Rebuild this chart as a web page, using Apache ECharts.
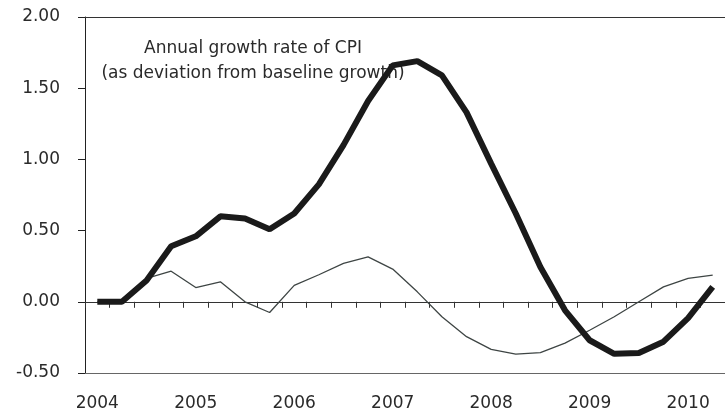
<!DOCTYPE html>
<html>
<head>
<meta charset="utf-8">
<script src="https://cdn.jsdelivr.net/npm/echarts@6/dist/echarts.min.js"></script>
<style>
  html, body { margin: 0; padding: 0; overflow: hidden; background: #fff; }
  #chart { width: 725px; height: 418px; }
</style>
</head>
<body>
<div id="chart"></div>
<script>
// ---- data (quarterly, 2004Q1 .. 2010Q2) ----
const years = ['2004', '2005', '2006', '2007', '2008', '2009', '2010']
const quarters = []
years.forEach(y => ['Q1', 'Q2', 'Q3', 'Q4'].forEach(q => quarters.push(y + q)))
quarters.length = 26

// thick line: annual CPI growth, deviation from baseline
const cpiDeviation = [0, 0, 0.15, 0.39, 0.46, 0.60, 0.585, 0.51,
  0.62, 0.825, 1.10, 1.41, 1.66, 1.69, 1.59, 1.33,
  0.97, 0.62, 0.245, -0.06, -0.27, -0.365, -0.36, -0.28,
  -0.115, 0.105]

// thin line
const otherSeries = [0, 0, 0.165, 0.215, 0.10, 0.14, 0.0, -0.075,
  0.115, 0.19, 0.27, 0.315, 0.23, 0.07, -0.105, -0.245,
  -0.334, -0.368, -0.357, -0.29, -0.20, -0.105, 0.0, 0.105,
  0.165, 0.187]

const yTicks = { min: -0.5, max: 2, interval: 0.5 }
const noteLines = ['Annual growth rate of CPI', '(as deviation from baseline growth)']

const FONT = 'DejaVu Sans'
const TEXT = '#2a2a2a'

const chart = echarts.init(document.getElementById('chart'))

chart.setOption({
  animation: false,
  grid: { left: 85, right: -7, top: 17, bottom: 45 },
  // note sits under the lines, like in the original
  graphic: [{
    type: 'text',
    x: 253,
    y: 36,
    z: 0,
    style: {
      text: noteLines.join('\n'),
      align: 'center',
      font: '17px ' + FONT,
      lineHeight: 25,
      fill: TEXT
    }
  }],
  xAxis: [
    // axis through zero with the quarter ticks
    {
      type: 'category',
      data: quarters,
      boundaryGap: true,
      position: 'bottom',
      axisLine: { onZero: true, lineStyle: { color: '#333', width: 1 } },
      axisTick: { show: true, interval: 0, length: 6, lineStyle: { color: '#333' } },
      axisLabel: { show: false },
      splitLine: { show: false }
    },
    // bottom frame with year labels
    {
      type: 'category',
      data: quarters,
      boundaryGap: true,
      position: 'bottom',
      axisLine: { onZero: false, lineStyle: { color: '#666', width: 1.2 } },
      axisTick: { show: false },
      axisLabel: {
        interval: 3,
        margin: 22,
        color: TEXT,
        fontFamily: FONT,
        fontSize: 17,
        formatter: v => v.substring(0, 4)
      }
    },
    // top frame
    {
      type: 'category',
      data: quarters,
      position: 'top',
      axisLine: { lineStyle: { color: '#333', width: 1 } },
      axisTick: { show: false },
      axisLabel: { show: false }
    }
  ],
  yAxis: {
    type: 'value',
    min: yTicks.min,
    max: yTicks.max,
    interval: yTicks.interval,
    axisLine: { show: true, lineStyle: { color: '#222', width: 1 } },
    axisTick: { show: true, length: 7, lineStyle: { color: '#222' } },
    axisLabel: {
      margin: 25,
      color: TEXT,
      fontFamily: FONT,
      fontSize: 17,
      formatter: v => v.toFixed(2)
    },
    splitLine: { show: false }
  },
  series: [
    {
      type: 'line',
      data: otherSeries,
      symbol: 'none',
      z: 2,
      lineStyle: { color: '#3e4544', width: 1.3 }
    },
    {
      type: 'line',
      data: cpiDeviation,
      symbol: 'none',
      z: 3,
      lineStyle: { color: '#1a1a1a', width: 6 }
    }
  ]
})
</script>
</body>
</html>
